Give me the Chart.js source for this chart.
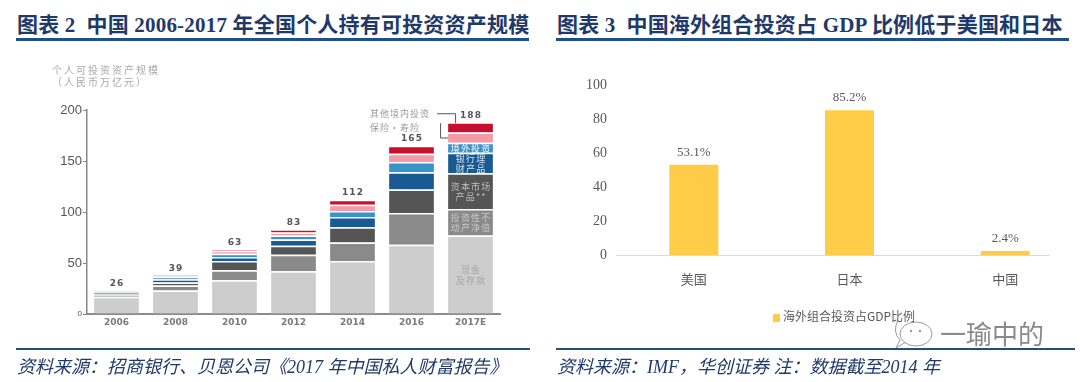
<!DOCTYPE html>
<html><head><meta charset="utf-8">
<script src="https://cdn.jsdelivr.net/npm/chart.js@4.4.1/dist/chart.umd.min.js"></script>
<style>
html,body{margin:0;padding:0;width:1080px;height:382px;overflow:hidden;background:#fff;position:relative;}
.title{position:absolute;top:14px;line-height:22px;font-family:"Liberation Serif","Noto Sans CJK SC";font-weight:bold;font-size:21px;color:#1f3a6a;white-space:nowrap;letter-spacing:0.2px}
.rule{position:absolute;height:3px;background:#1F4E89}
.frule{position:absolute;height:2px;background:#1F4E89;top:348px}
.foot{position:absolute;top:357px;line-height:20px;font-family:"Liberation Serif","Noto Sans CJK SC";font-style:italic;font-size:18px;color:#1f3a6a;white-space:nowrap}
#c1wrap{position:absolute;left:0;top:0;width:540px;height:382px}
#c2wrap{position:absolute;left:540px;top:0;width:560px;height:382px}
.ytitle{position:absolute;left:52px;top:64px;font-family:"Noto Sans CJK SC";font-size:10px;line-height:12px;color:#a8a8a8;letter-spacing:2px;white-space:nowrap}
.legend{position:absolute;left:773px;top:307px;font-family:"Noto Sans CJK SC";font-size:12px;line-height:18px;color:#595959;white-space:nowrap}
.legend i{display:inline-block;width:7px;height:8px;background:#FFCC47;margin-right:3px;vertical-align:-1px}
.wm{position:absolute;left:940px;top:318px;font-family:"Noto Sans CJK SC";font-size:26px;line-height:30px;color:#8a8a8a;white-space:nowrap;letter-spacing:0px}
.bubble{position:absolute;left:890px;top:312px}
</style></head>
<body>
<div class="title" style="left:17px">图表 2&nbsp;&nbsp;中国 2006-2017 年全国个人持有可投资资产规模</div>
<div class="rule" style="left:16px;top:38px;width:513px"></div>
<div class="title" style="left:557px">图表 3&nbsp;&nbsp;中国海外组合投资占 GDP 比例低于美国和日本</div>
<div class="rule" style="left:556px;top:38px;width:513px"></div>

<div id="c1wrap"><canvas id="c1"></canvas></div>
<div id="c2wrap"><canvas id="c2"></canvas></div>

<div class="ytitle">个人可投资资产规模<br>（人民币万亿元）</div>
<div class="legend"><i></i>海外组合投资占GDP比例</div>
<svg class="bubble" width="48" height="40" viewBox="0 0 48 40">
  <path d="M8 8 Q2 20 10 28 L6 36 L16 30" fill="none" stroke="#999" stroke-width="1"/>
  <ellipse cx="26" cy="22" rx="16" ry="12" fill="rgba(255,255,255,0.85)" stroke="#999" stroke-width="1"/>
  <circle cx="21" cy="19" r="1.2" fill="#999"/><circle cx="30" cy="19" r="1.2" fill="#999"/>
</svg>
<div class="wm">一瑜中的</div>

<div class="frule" style="left:16px;width:514px"></div>
<div class="frule" style="left:556px;width:519px"></div>
<div class="foot" style="left:17px">资料来源：招商银行、贝恩公司《2017 年中国私人财富报告》</div>
<div class="foot" style="left:557px">资料来源：IMF，华创证券 注：数据截至2014 年</div>

<script>
// ---- Left chart data (万亿元) ----
const years = ['2006','2008','2010','2012','2014','2016','2017E'];
const totals = [26, 39, 63, 83, 112, 165, 188];
const cash      = [17, 23, 33, 42, 52, 68, 77];
const property  = [2, 5, 10, 16, 18, 31, 26];
const capital   = [2, 3, 9, 9, 15, 23, 35];
const bankWM    = [0.8, 3, 4, 6, 10, 17, 20];
const overseas  = [0.5, 2, 3, 4, 6, 10, 10];
const insurance = [0.5, 1, 3, 3, 6, 8, 10];
const otherDom  = [0.2, 1, 1, 3, 5, 8, 10];
const leftTicks = [0, 50, 100, 150, 200];

// ---- Right chart data (%) ----
const countries = ['美国', '日本', '中国'];
const ratio = [53.1, 85.2, 2.4];
const rightTicks = [0, 20, 40, 60, 80, 100];

const segNames = ['现金及存款','投资性不动产净值','资本市场产品','银行理财产品','境外投资','保险·寿险','其他境内投资'];
const segColors = ['#cdcdcd','#8a8a8a','#555555','#1a5a92','#3a93c8','#f29aa5','#c8102e'];
const segData = [cash, property, capital, bankWM, overseas, insurance, otherDom];
const innerLabels = [
  {lines:['现金','及存款'], color:'#a6a6a6'},
  {lines:['投资性不','动产净值'], color:'#c9c9c9'},
  {lines:['资本市场','产品**'], color:'#bdbdbd'},
  {lines:['银行理','财产品'], color:'#d5e2ee'},
  {lines:['境外投资'], color:'#ffffff'}
];

Chart.defaults.font.family = '"Noto Sans CJK SC", sans-serif';

function setLS(ctx, v){ if ('letterSpacing' in ctx) ctx.letterSpacing = v; }

const leftLabels = {
  id: 'leftLabels',
  afterDatasetsDraw(chart) {
    const ctx = chart.ctx;
    const topMeta = chart.getDatasetMeta(segData.length - 1);
    ctx.save();
    ctx.font = 'bold 9px "DejaVu Sans"';
    setLS(ctx, '1px');
    ctx.fillStyle = '#555';
    ctx.textAlign = 'center';
    ctx.textBaseline = 'middle';
    topMeta.data.forEach((bar, i) => { ctx.fillText(String(totals[i]), bar.x + 0.5, bar.y - 7); });
    const last = years.length - 1;
    ctx.font = '9px "Noto Sans CJK SC"';
    setLS(ctx, '1.2px');
    innerLabels.forEach((lab, d) => {
      const b = chart.getDatasetMeta(d).data[last];
      const mid = (b.y + b.base) / 2 + 0.5;
      ctx.fillStyle = lab.color;
      const n = lab.lines.length;
      lab.lines.forEach((t, k) => ctx.fillText(t, b.x + 0.6, mid + (k - (n - 1) / 2) * 10.5));
    });
    // callouts
    const rb = chart.getDatasetMeta(6).data[last];
    const pb = chart.getDatasetMeta(5).data[last];
    const left = rb.x - rb.width / 2;
    const pinkMid = (pb.y + pb.base) / 2;
    ctx.font = '9px "Noto Sans CJK SC"';
    setLS(ctx, '1px');
    ctx.fillStyle = '#9a9a9a';
    ctx.textAlign = 'left';
    ctx.fillText('其他境内投资', left - 78, rb.y - 9);
    ctx.fillText('保险·寿险', left - 78, rb.y + 5);
    ctx.strokeStyle = '#555';
    ctx.lineWidth = 1;
    ctx.beginPath();
    ctx.moveTo(left - 11, rb.y - 8.5); ctx.lineTo(left + 7.5, rb.y - 8.5); ctx.lineTo(left + 7.5, rb.y + 1);
    ctx.moveTo(left - 7.5, rb.y + 1); ctx.lineTo(left - 7.5, pinkMid + 0.5); ctx.lineTo(left, pinkMid + 0.5);
    ctx.stroke();
    ctx.restore();
  }
};

new Chart(document.getElementById('c1'), {
  type: 'bar',
  data: {
    labels: years,
    datasets: segData.map((arr, i) => ({
      label: segNames[i], data: arr, backgroundColor: segColors[i],
      borderColor: '#ffffff', borderWidth: {top: 1.5, bottom: 0, left: 0, right: 0}, borderSkipped: false,
      barPercentage: 0.76, categoryPercentage: 1
    }))
  },
  options: {
    animation: false, responsive: true, maintainAspectRatio: false,
    layout: {padding: {left: 0, right: 40, top: 110, bottom: 38}},
    plugins: {legend: {display: false}, tooltip: {enabled: false}},
    scales: {
      x: {
        stacked: true,
        grid: {display: false, drawTicks: false},
        border: {color: '#8c8c8c', width: 2},
        ticks: {color: '#7a7a7a', font: {size: 9, weight: 'bold', family: '"DejaVu Sans"'}, padding: 3},
        afterFit: s => { s.height = 30; }
      },
      y: {
        stacked: true, min: 0, max: 200,
        afterBuildTicks: s => { s.ticks = leftTicks.map(v => ({value: v})); },
        ticks: {color: '#555', padding: 1,
          font: c => (c.tick && c.tick.value === 0) ? {size: 8, family: 'Arial, "Liberation Sans"'} : {size: 13, family: 'Arial, "Liberation Sans"'}},
        grid: {drawOnChartArea: false, drawTicks: true, tickLength: 4, color: '#888'},
        border: {color: '#888', width: 1.5},
        afterFit: s => { s.width = 87; }
      }
    }
  },
  plugins: [leftLabels]
});

const rightPlug = {
  id: 'rightPlug',
  beforeDatasetsDraw(chart) {
    const {ctx, chartArea, scales: {x}} = chart;
    const right = x.getPixelForValue(countries.length - 1) + x.width / countries.length * 0.285;
    ctx.save();
    ctx.strokeStyle = '#d9d9d9'; ctx.lineWidth = 1;
    ctx.beginPath(); ctx.moveTo(chartArea.left, chartArea.bottom + 0.5); ctx.lineTo(right, chartArea.bottom + 0.5); ctx.stroke();
    ctx.restore();
  },
  afterDatasetsDraw(chart) {
    const ctx = chart.ctx;
    const meta = chart.getDatasetMeta(0);
    ctx.save();
    ctx.font = '13px "Liberation Serif"';
    ctx.fillStyle = '#595959';
    ctx.textAlign = 'center';
    ctx.textBaseline = 'alphabetic';
    meta.data.forEach((bar, i) => ctx.fillText(ratio[i].toFixed(1) + '%', bar.x, bar.y - 9));
    ctx.restore();
  }
};

new Chart(document.getElementById('c2'), {
  type: 'bar',
  data: {
    labels: countries,
    datasets: [{label: '海外组合投资占GDP比例', data: ratio, backgroundColor: '#FFCC47', barPercentage: 0.315, categoryPercentage: 1}]
  },
  options: {
    animation: false, responsive: true, maintainAspectRatio: false,
    layout: {padding: {left: 0, right: 17, top: 85, bottom: 87}},
    plugins: {legend: {display: false}, tooltip: {enabled: false}},
    scales: {
      x: {
        grid: {display: false, drawTicks: false}, border: {display: false},
        ticks: {color: '#595959', font: {size: 13, family: '"Noto Sans CJK SC"'}, padding: 16},
        afterFit: s => { s.height = 40; }
      },
      y: {
        min: 0, max: 100,
        afterBuildTicks: s => { s.ticks = rightTicks.map(v => ({value: v})); },
        grid: {display: false, drawTicks: false}, border: {display: false},
        ticks: {color: '#595959', font: {size: 14, family: '"Liberation Serif"'}, padding: 9},
        afterFit: s => { s.width = 76; }
      }
    }
  },
  plugins: [rightPlug]
});
</script>
</body></html>
